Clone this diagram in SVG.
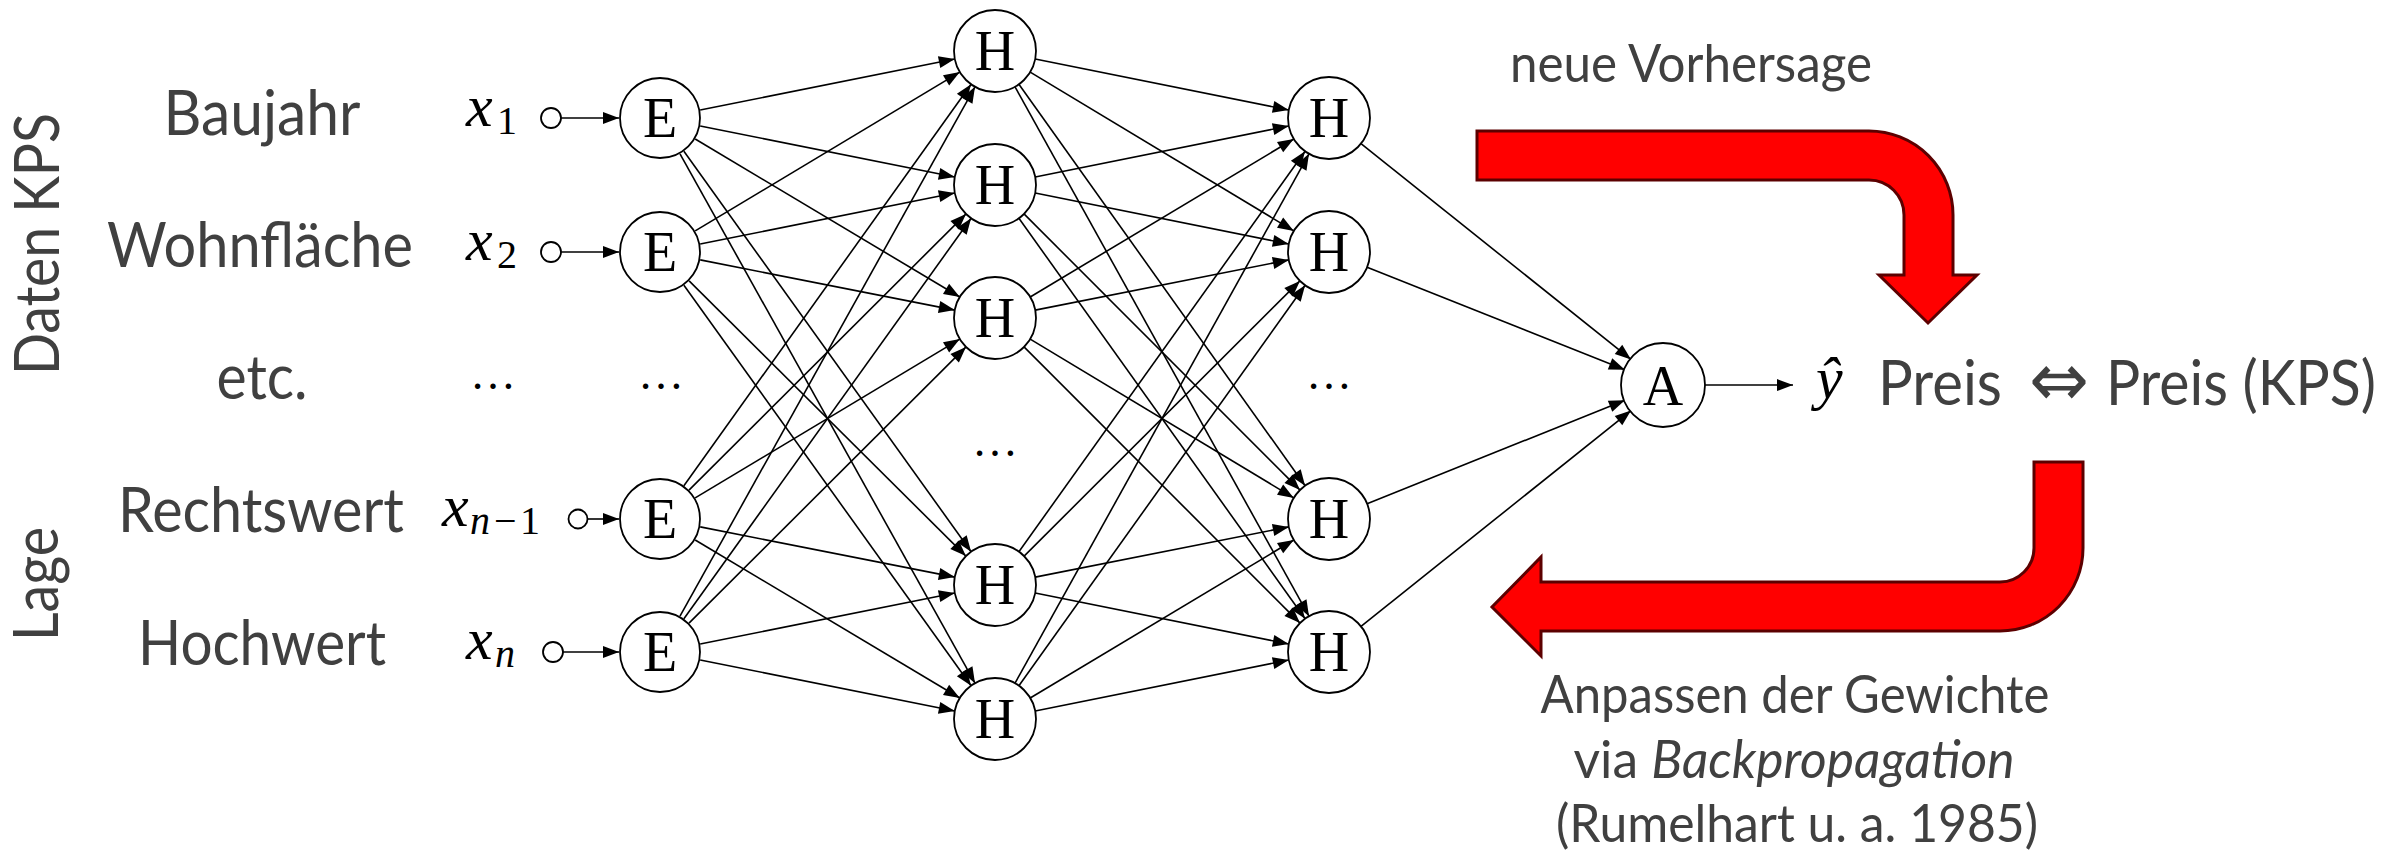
<svg xmlns="http://www.w3.org/2000/svg" width="2396" height="851" viewBox="0 0 2396 851">
<style>
.lbl{font-family:Lato,"Open Sans","Liberation Sans",sans-serif;fill:#404040;font-size:62px}
.sm{font-size:52px}
.math{font-family:"Liberation Serif","DejaVu Serif",serif;fill:#000}
.it{font-style:italic}
.node circle{fill:#fff;stroke:#000;stroke-width:1.8}
.node text{font-family:"Liberation Serif","DejaVu Serif",serif;font-size:56px;text-anchor:middle;fill:#000}
.edges line{stroke:#000;stroke-width:1.6;marker-end:url(#ah)}
.red{fill:#ff0000;stroke:#5c0000;stroke-width:3;stroke-linejoin:miter}
.dots{font-family:"Liberation Serif","DejaVu Serif",serif;font-size:46px;text-anchor:middle;fill:#000}
</style>
<defs>
<marker id="ah" markerUnits="userSpaceOnUse" markerWidth="17" markerHeight="12" refX="16" refY="6" orient="auto" overflow="visible">
<path d="M0,0 L16,6 L0,12 Z" fill="#000"/>
</marker>
</defs>
<rect width="2396" height="851" fill="#fff"/>

<!-- left labels -->
<g id="labels">
<text class="lbl" transform="translate(59,244) rotate(-90)" text-anchor="middle" textLength="262" lengthAdjust="spacingAndGlyphs">Daten KPS</text>
<text class="lbl" transform="translate(58,584) rotate(-90)" text-anchor="middle" textLength="114" lengthAdjust="spacingAndGlyphs">Lage</text>
<text class="lbl" x="262" y="135" text-anchor="middle" textLength="197" lengthAdjust="spacingAndGlyphs">Baujahr</text>
<text class="lbl" x="260" y="267" text-anchor="middle" textLength="306" lengthAdjust="spacingAndGlyphs">Wohnfläche</text>
<text class="lbl" x="262" y="399" text-anchor="middle" textLength="91" lengthAdjust="spacingAndGlyphs">etc.</text>
<text class="lbl" x="261" y="532" text-anchor="middle" textLength="286" lengthAdjust="spacingAndGlyphs">Rechtswert</text>
<text class="lbl" x="262" y="665" text-anchor="middle" textLength="248" lengthAdjust="spacingAndGlyphs">Hochwert</text>
</g>

<!-- input symbols -->
<g id="inputs">
<text class="math it" x="466" y="126" font-size="60">x</text><text class="math" x="497" y="134" font-size="40">1</text>
<text class="math it" x="466" y="260" font-size="60">x</text><text class="math" x="497" y="268" font-size="40">2</text>
<text class="math it" x="442" y="526" font-size="60">x</text><text class="math" y="534" font-size="40"><tspan class="it" x="470">n</tspan><tspan x="494">−</tspan><tspan x="520">1</tspan></text>
<text class="math it" x="466" y="659" font-size="60">x</text><text class="math it" x="495" y="667" font-size="40">n</text>
<text class="dots" x="493" y="389">…</text>
</g>

<!-- connectors -->
<g id="connectors" class="edges">
<!-- inputs -->
<line x1="561" y1="118" x2="619" y2="118"/>
<line x1="561" y1="252" x2="619" y2="252"/>
<line x1="588" y1="519" x2="619" y2="519"/>
<line x1="563" y1="652" x2="619" y2="652"/>
<!-- E1 -->
<line x1="700.2" y1="110" x2="954.8" y2="59"/>
<line x1="700.2" y1="126" x2="954.8" y2="177"/>
<line x1="695.2" y1="139" x2="959.8" y2="297"/>
<line x1="683.9" y1="151.3" x2="971.1" y2="551.7"/>
<line x1="680" y1="153.8" x2="975" y2="683.2"/>
<!-- E2 -->
<line x1="695.2" y1="230.9" x2="959.8" y2="72.1"/>
<line x1="700.2" y1="244" x2="954.8" y2="193"/>
<line x1="700.2" y1="259.9" x2="954.8" y2="310.1"/>
<line x1="689.1" y1="280.9" x2="965.9" y2="556.1"/>
<line x1="683.9" y1="285.3" x2="971.1" y2="685.7"/>
<!-- E4 -->
<line x1="683.9" y1="485.7" x2="971.1" y2="84.3"/>
<line x1="689" y1="490.1" x2="966" y2="213.9"/>
<line x1="695.2" y1="497.9" x2="959.8" y2="339.1"/>
<line x1="700.2" y1="526.9" x2="954.8" y2="577.1"/>
<line x1="695.2" y1="540" x2="959.8" y2="698"/>
<!-- E5 -->
<line x1="680" y1="616.2" x2="975" y2="86.8"/>
<line x1="683.9" y1="618.7" x2="971.1" y2="218.3"/>
<line x1="689" y1="623.1" x2="966" y2="346.9"/>
<line x1="700.2" y1="644" x2="954.8" y2="593"/>
<line x1="700.2" y1="660" x2="954.8" y2="711"/>
<!-- H1a -->
<line x1="1035.2" y1="59" x2="1288.8" y2="110"/>
<line x1="1030.2" y1="72.1" x2="1293.8" y2="230.9"/>
<line x1="1018.9" y1="84.3" x2="1305.1" y2="485.7"/>
<line x1="1015" y1="86.8" x2="1309" y2="616.2"/>
<!-- H1b -->
<line x1="1035.2" y1="177" x2="1288.8" y2="126"/>
<line x1="1035.2" y1="193" x2="1288.8" y2="244"/>
<line x1="1024" y1="213.9" x2="1300" y2="490.1"/>
<line x1="1018.9" y1="218.3" x2="1305.1" y2="618.7"/>
<!-- H1c -->
<line x1="1030.2" y1="297" x2="1293.8" y2="139"/>
<line x1="1035.2" y1="310.1" x2="1288.8" y2="259.9"/>
<line x1="1030.2" y1="339.1" x2="1293.8" y2="497.9"/>
<line x1="1024" y1="346.9" x2="1300" y2="623.1"/>
<!-- H1d -->
<line x1="1018.9" y1="551.7" x2="1305.1" y2="151.3"/>
<line x1="1024.1" y1="556.1" x2="1299.9" y2="280.9"/>
<line x1="1035.2" y1="577.1" x2="1288.8" y2="526.9"/>
<line x1="1035.2" y1="593" x2="1288.8" y2="644"/>
<!-- H1e -->
<line x1="1015" y1="683.2" x2="1309" y2="153.8"/>
<line x1="1018.9" y1="685.7" x2="1305.1" y2="285.3"/>
<line x1="1030.2" y1="698" x2="1293.8" y2="540"/>
<line x1="1035.2" y1="711" x2="1288.8" y2="660"/>
<!-- H2 -> A -->
<line x1="1361" y1="143.6" x2="1631" y2="359.4"/>
<line x1="1367.1" y1="267.2" x2="1624.9" y2="369.8"/>
<line x1="1367.1" y1="503.7" x2="1624.9" y2="400.3"/>
<line x1="1361" y1="626.4" x2="1631" y2="410.6"/>
<!-- A -> output -->
<line x1="1705" y1="385" x2="1793" y2="385"/>
</g>

<!-- input small circles -->
<g id="in1" class="node"><circle cx="551" cy="118" r="10"/></g>
<g id="in2" class="node"><circle cx="551" cy="252" r="10"/></g>
<g id="in4" class="node"><circle cx="578" cy="519" r="9.5"/></g>
<g id="in5" class="node"><circle cx="553" cy="652" r="10"/></g>

<!-- E layer -->
<g id="E1" class="node"><circle cx="660" cy="118" r="40"/><text x="660" y="137">E</text></g>
<g id="E2" class="node"><circle cx="660" cy="252" r="40"/><text x="660" y="271">E</text></g>
<text class="dots" x="661" y="389">…</text>
<g id="E4" class="node"><circle cx="660" cy="519" r="40"/><text x="660" y="538">E</text></g>
<g id="E5" class="node"><circle cx="660" cy="652" r="40"/><text x="660" y="671">E</text></g>

<!-- H layer 1 -->
<g id="H1a" class="node"><circle cx="995" cy="51" r="41"/><text x="995" y="70">H</text></g>
<g id="H1b" class="node"><circle cx="995" cy="185" r="41"/><text x="995" y="204">H</text></g>
<g id="H1c" class="node"><circle cx="995" cy="318" r="41"/><text x="995" y="337">H</text></g>
<text class="dots" x="995" y="456">…</text>
<g id="H1d" class="node"><circle cx="995" cy="585" r="41"/><text x="995" y="604">H</text></g>
<g id="H1e" class="node"><circle cx="995" cy="719" r="41"/><text x="995" y="738">H</text></g>

<!-- H layer 2 -->
<g id="H2a" class="node"><circle cx="1329" cy="118" r="41"/><text x="1329" y="137">H</text></g>
<g id="H2b" class="node"><circle cx="1329" cy="252" r="41"/><text x="1329" y="271">H</text></g>
<text class="dots" x="1329" y="389">…</text>
<g id="H2d" class="node"><circle cx="1329" cy="519" r="41"/><text x="1329" y="538">H</text></g>
<g id="H2e" class="node"><circle cx="1329" cy="652" r="41"/><text x="1329" y="671">H</text></g>

<!-- output node -->
<g id="A" class="node"><circle cx="1663" cy="385" r="42"/><text x="1663" y="405">A</text></g>

<!-- output labels -->
<g id="output">
<text class="math it" x="1816" y="398" font-size="60">ŷ</text>
<text class="lbl" x="1878" y="405" textLength="124" lengthAdjust="spacingAndGlyphs">Preis</text>
<text x="2029" y="406" font-family="'DejaVu Sans',sans-serif" font-size="76" fill="#404040" textLength="60" lengthAdjust="spacingAndGlyphs">⇔</text>
<text class="lbl" x="2106" y="405" textLength="270" lengthAdjust="spacingAndGlyphs">Preis (KPS)</text>
</g>

<!-- red arrows -->
<g id="forward">
<path class="red" d="M1477,131 H1869 A84,84 0 0 1 1953,215 V275 H1977 L1928,323 L1879,275 H1904 V215 A35,35 0 0 0 1869,180 H1477 Z"/>
<text class="lbl sm" x="1510" y="82" textLength="362" lengthAdjust="spacingAndGlyphs">neue Vorhersage</text>
</g>
<g id="backward">
<path class="red" d="M2034,462 H2083 V548 A83,83 0 0 1 2000,631 H1541 V656 L1492,607 L1541,557 V582 H2000 A34,34 0 0 0 2034,548 Z"/>
<text class="lbl sm" x="1795" y="713" text-anchor="middle" textLength="509" lengthAdjust="spacingAndGlyphs">Anpassen der Gewichte</text>
<text class="lbl sm" x="1794" y="778" text-anchor="middle" textLength="441" lengthAdjust="spacingAndGlyphs">via <tspan font-style="italic">Backpropagation</tspan></text>
<text class="lbl sm" x="1797" y="842" text-anchor="middle" textLength="482" lengthAdjust="spacingAndGlyphs">(Rumelhart u. a. 1985)</text>
</g>
</svg>
